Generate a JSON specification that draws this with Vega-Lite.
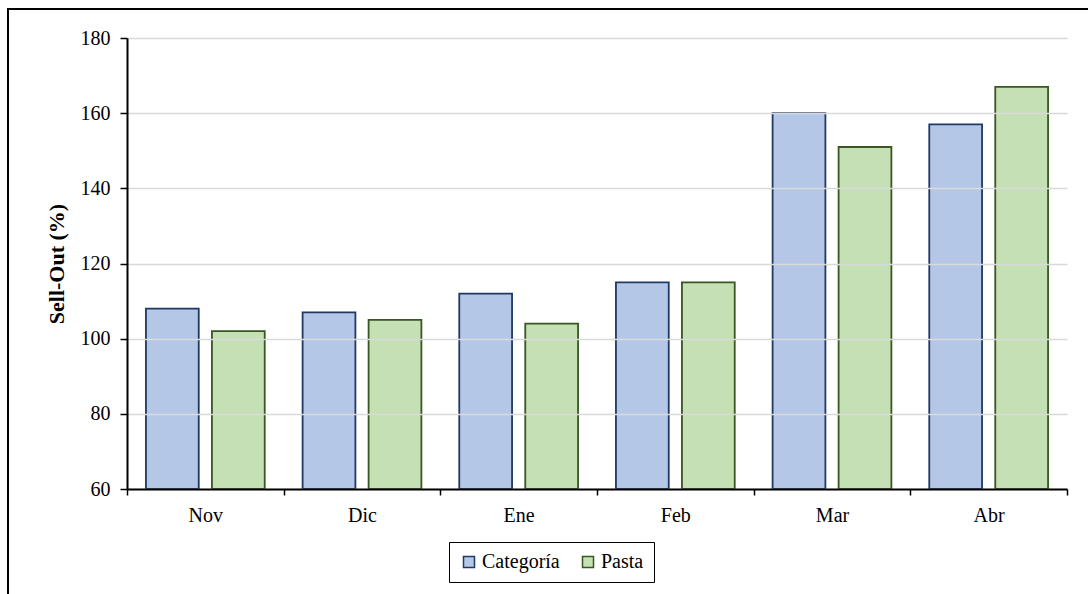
{
  "$schema": "https://vega.github.io/schema/vega-lite/v6.json",
  "width": 1090,
  "height": 600,
  "autosize": {"type": "none"},
  "padding": {"left": 8, "top": 9, "right": 0, "bottom": 0},
  "background": "white",
  "config": {
    "font": "Times New Roman, Liberation Serif, serif",
    "view": {"stroke": "black", "strokeWidth": 2},
    "axis": {"labelFont": "Times New Roman, Liberation Serif, serif", "titleFont": "Times New Roman, Liberation Serif, serif"},
    "legend": {"labelFont": "Times New Roman, Liberation Serif, serif", "titleFont": "Times New Roman, Liberation Serif, serif"}
  },
  "data": {
    "values": [
      {"mes": "Nov", "serie": "Categoría", "valor": 108},
      {"mes": "Nov", "serie": "Pasta", "valor": 102},
      {"mes": "Dic", "serie": "Categoría", "valor": 107},
      {"mes": "Dic", "serie": "Pasta", "valor": 105},
      {"mes": "Ene", "serie": "Categoría", "valor": 112},
      {"mes": "Ene", "serie": "Pasta", "valor": 104},
      {"mes": "Feb", "serie": "Categoría", "valor": 115},
      {"mes": "Feb", "serie": "Pasta", "valor": 115},
      {"mes": "Mar", "serie": "Categoría", "valor": 160},
      {"mes": "Mar", "serie": "Pasta", "valor": 151},
      {"mes": "Abr", "serie": "Categoría", "valor": 157},
      {"mes": "Abr", "serie": "Pasta", "valor": 167}
    ]
  },
  "mark": {"type": "bar", "strokeWidth": 1.8},
  "encoding": {
    "x": {
      "field": "mes",
      "type": "nominal",
      "sort": ["Nov", "Dic", "Ene", "Feb", "Mar", "Abr"],
      "scale": {"range": [119, 1059], "paddingInner": 0, "paddingOuter": 0},
      "axis": {
        "title": null,
        "offset": -120,
        "zindex": 1,
        "tickBand": "extent",
        "labelAngle": 0,
        "labelFontSize": 20,
        "labelColor": "black",
        "labelPadding": 10,
        "tickSize": 6,
        "tickColor": "black",
        "tickWidth": 1.5,
        "domainColor": "black",
        "domainWidth": 2,
        "grid": false
      }
    },
    "xOffset": {
      "field": "serie",
      "type": "nominal",
      "sort": ["Categoría", "Pasta"],
      "scale": {"paddingInner": 0.2, "paddingOuter": 0.287}
    },
    "y": {
      "field": "valor",
      "type": "quantitative",
      "scale": {"domain": [60, 180], "range": [480, 29], "nice": false, "zero": false},
      "axis": {
        "title": "Sell-Out (%)",
        "titleFontWeight": "bold",
        "titleFontSize": 22,
        "titleColor": "black",
        "titlePadding": 12,
        "offset": -119,
        "zindex": 1,
        "values": [60, 80, 100, 120, 140, 160, 180],
        "labelFontSize": 20,
        "labelColor": "black",
        "labelPadding": 10,
        "tickSize": 7,
        "tickColor": "black",
        "tickWidth": 1.5,
        "domainColor": "black",
        "domainWidth": 2,
        "grid": true,
        "gridColor": "#D9D9D9",
        "gridWidth": 1.5
      }
    },
    "y2": {"datum": 60},
    "fill": {
      "field": "serie",
      "type": "nominal",
      "scale": {"domain": ["Categoría", "Pasta"], "range": ["#B4C7E7", "#C5E0B4"]},
      "legend": {
        "title": null,
        "orient": "none",
        "legendX": 441,
        "legendY": 533,
        "direction": "horizontal",
        "strokeColor": "black",
        "fillColor": "white",
        "padding": 10,
        "labelFontSize": 20,
        "labelColor": "black",
        "labelOffset": 3,
        "columnPadding": 18,
        "symbolType": "square",
        "symbolSize": 121,
        "symbolStrokeWidth": 1.5
      }
    },
    "stroke": {
      "field": "serie",
      "type": "nominal",
      "scale": {"domain": ["Categoría", "Pasta"], "range": ["#203864", "#385723"]},
      "legend": {
        "title": null,
        "orient": "none",
        "legendX": 441,
        "legendY": 533,
        "direction": "horizontal",
        "strokeColor": "black",
        "fillColor": "white",
        "padding": 10,
        "labelFontSize": 20,
        "labelColor": "black",
        "labelOffset": 3,
        "columnPadding": 18,
        "symbolType": "square",
        "symbolSize": 121,
        "symbolStrokeWidth": 1.5
      }
    }
  }
}
